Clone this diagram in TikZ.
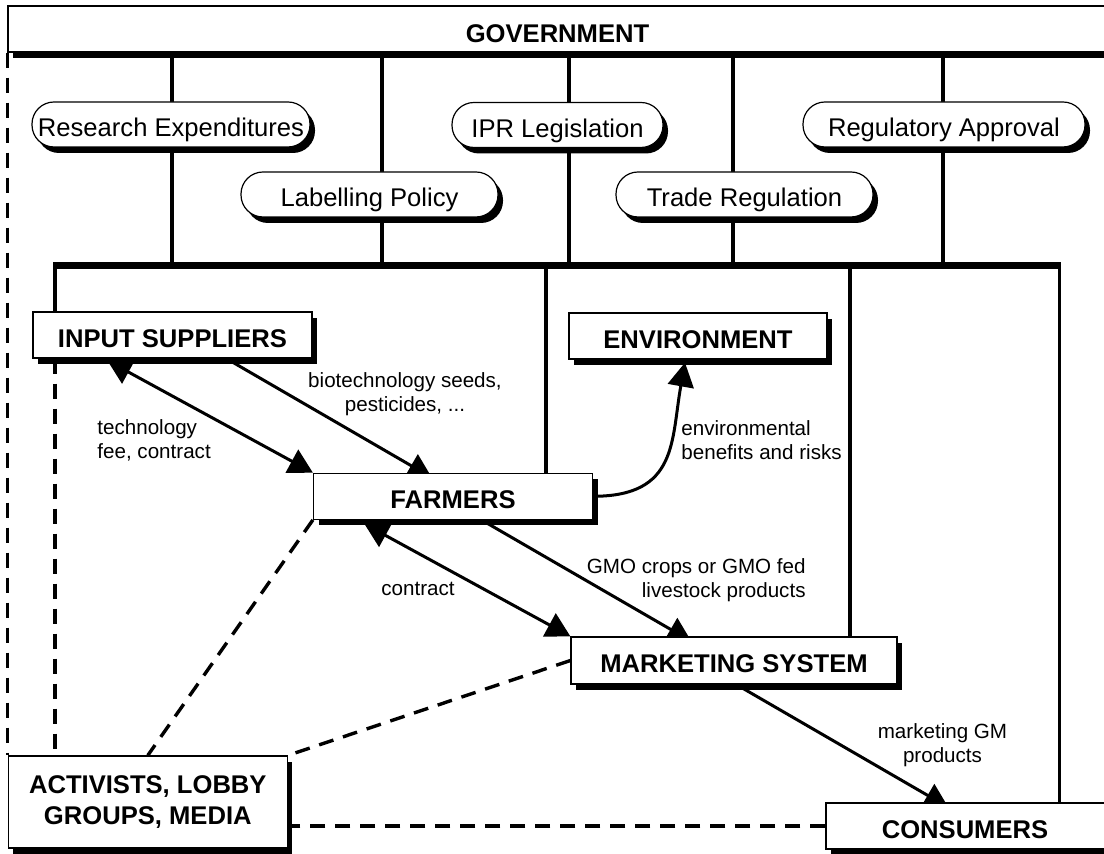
\documentclass[tikz,border=0pt]{standalone}
\usepackage{fontspec}
\setmainfont{Liberation Sans}
\usetikzlibrary{arrows.meta,shadows,calc}
\pgfdeclarelayer{background}
\pgfsetlayers{background,main}
\newcommand\boxfont{\fontsize{12.8}{15.8}\selectfont\bfseries}
\newcommand\pillfont{\fontsize{12.8}{15.8}\selectfont}
\newcommand\labfont{\fontsize{10.3}{12}\selectfont}

\begin{document}
\begin{tikzpicture}[x=0.5pt,y=-0.5pt,
  shadowed/.style={drop shadow={shadow xshift=2.5pt,shadow yshift=-3pt,fill=black,opacity=1}},
  box/.style={rectangle,draw=black,line width=0.6pt,fill=white,inner sep=0pt,shadowed,
    font=\boxfont,align=center,minimum height=23pt},
  oneline/.style={text height=12.2pt,text depth=0pt},
  pill/.style={box,oneline,rounded corners=11pt,font=\pillfont,minimum height=22.5pt},
  lab/.style={font=\labfont,inner sep=0pt},
  bus/.style={line width=3.5pt},
  link/.style={line width=1.6pt},
  linkw/.style={line width=1.9pt},
  flow/.style={line width=1.5pt},
  oneway/.style={flow,-{Triangle[length=12pt,width=13pt]}},
  twoway/.style={flow,{Triangle[length=12pt,width=13pt]}-{Triangle[length=12pt,width=13pt]}},
  dashline/.style={line width=1.7pt,dash pattern=on 7.5pt off 5pt}]

\useasboundingbox (0,0) rectangle (1104,854);

% government band
\node[box,oneline,minimum width=556pt,text height=13.2pt] (gov) at (564,29) {GOVERNMENT\hspace*{6.5pt}};

% policy instruments
\node[pill,minimum width=139pt]   (resexp) at (171,124.5)   {Research Expenditures};
\node[pill,minimum width=105.5pt] (ipr)    at (557.5,125)   {IPR Legislation};
\node[pill,minimum width=141pt]   (regapp) at (944,124.5)   {Regulatory Approval};
\node[pill,minimum width=128.5pt] (lablpol) at (369.5,194.5) {Labelling Policy};
\node[pill,minimum width=128.5pt] (trade)  at (744.5,194.5) {Trade Regulation};

% actors
\node[box,oneline,minimum width=139.5pt] (inp)  at (172.5,335) {INPUT SUPPLIERS};
\node[box,oneline,minimum width=129pt]   (env)  at (698,336)   {ENVIRONMENT};
\node[box,oneline,minimum width=139.5pt] (farm) at (453,496.3) {FARMERS};
\node[box,oneline,minimum width=163pt,minimum height=23.5pt] (mkt) at (734,660.5) {MARKETING SYSTEM};
\node[box,oneline,minimum width=147pt]   (cons) at (973,826)   {CONSUMERS\hspace*{8pt}};
\node[box,minimum width=139.5pt,minimum height=46pt] (act) at (147.8,802) {ACTIVISTS, LOBBY\\GROUPS, MEDIA};

% flow labels
\node[lab,anchor=west,align=left]  (lbfee)  at (97,440)    {technology\\fee, contract};
\node[lab,align=center]            (lbseed) at (405,394)   {biotechnology seeds,\\pesticides, ...};
\node[lab,anchor=west,align=left]  (lbenv)  at (681,440)   {environmental\\benefits and risks};
\node[lab]                         (lbcon)  at (418,589)   {contract};
\node[lab,anchor=east,align=right] (lbgmo)  at (806,580)   {GMO crops or GMO fed\\livestock products};
\node[lab,align=center]            (lbmkt)  at (942.5,745) {marketing GM\\products};

\begin{pgfonlayer}{background}
  \coordinate (busw) at (55,265.5);
  \coordinate (buse) at (1059.5,265.5);

  % links from the government band down to the bus
  \foreach \x in {172,382,569,733,943}
    \draw[link] (\x,0 |- gov.south) -- (\x,265.5);

  % bus and its drops to the actors
  \draw[bus] ([xshift=-0.9pt]busw) -- ([xshift=0.9pt]buse);
  \draw[linkw] (busw) -- (busw |- inp.north);
  \draw[linkw] (buse) -- (buse |- cons.north);
  \draw[link] (546,265.5) -- (546,265.5 |- farm.north);
  \draw[link] (850,265.5) -- (850,265.5 |- mkt.north);

  % activist influence
  \draw[dashline] (gov.south west) -- (gov.south west |- act.north);
  \draw[dashline] (busw |- inp.south) -- (busw |- act.north);
  \draw[dashline] (farm.south west) -- (act.north);
  \draw[dashline] (mkt.west) -- (act.north east);
  \draw[dashline] (cons.west) -- (cons.west -| act.east);

  % product and money flows
  \draw[twoway] ($(inp.south west)+(75,2)$) -- (farm.north west);
  \draw[oneway] ($(inp.south west)+(194,0)$) -- ($(farm.north west)+(119,5)$);
  \draw[oneway] (farm.east) .. controls +(85,0) and +(-14,78) .. ($(env.south)+(-13,3)$);
  \draw[twoway] ($(farm.south west)+(51.5,4)$) -- (mkt.north west);
  \draw[oneway] ($(farm.south west)+(168.5,0)$) -- ($(mkt.north west)+(121,5)$);
  \draw[oneway] ($(mkt.south west)+(166,0)$) -- ($(cons.north west)+(123,5)$);
\end{pgfonlayer}
\end{tikzpicture}
\end{document}
